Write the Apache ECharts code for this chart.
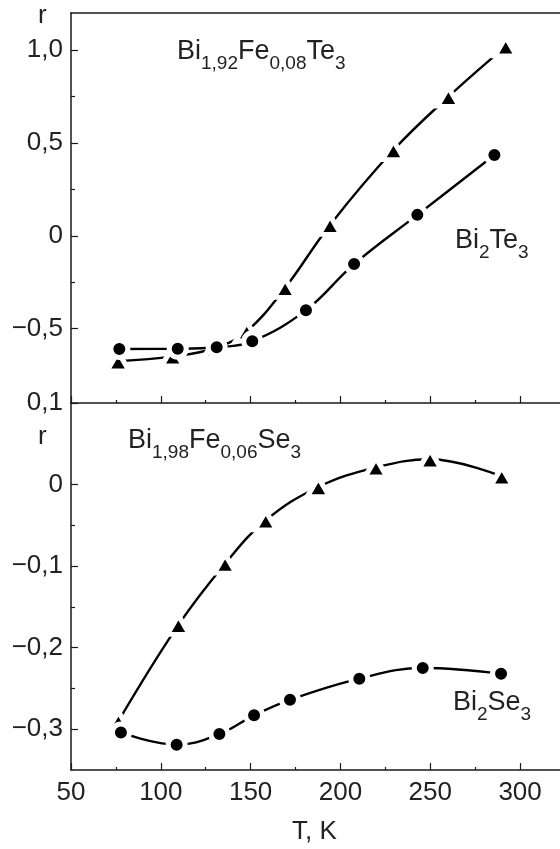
<!DOCTYPE html>
<html>
<head>
<meta charset="utf-8">
<script src="https://cdn.jsdelivr.net/npm/echarts@6/dist/echarts.min.js"></script>
<style>
  html, body { margin: 0; padding: 0; background: #fff; }
  #chart { width: 560px; height: 849px; }
</style>
</head>
<body>
<div id="chart"></div>
<script>
// верхняя панель: Bi2Te3 и Bi1,92Fe0,08Te3
var teFeT = [76.2, 106.6, 130.2, 147.8, 169.2, 194.2, 229.5, 260.1, 292.0];
var teFeR = [-0.675, -0.649, -0.604, -0.514, -0.28, 0.059, 0.462, 0.749, 1.02];
var teT = [76.9, 109.4, 131.1, 150.9, 180.8, 207.6, 242.8, 285.7];
var teR = [-0.609, -0.608, -0.60, -0.568, -0.40, -0.152, 0.113, 0.435];

// нижняя панель: Bi2Se3 и Bi1,98Fe0,06Se3
var seFeT = [76.4, 109.8, 135.8, 158.4, 187.7, 219.8, 249.9, 289.8];
var seFeR = [-0.290, -0.172, -0.097, -0.044, -0.003, 0.021, 0.031, 0.010];
var seT = [77.8, 108.8, 132.6, 151.9, 171.9, 210.5, 245.8, 289.4];
var seR = [-0.304, -0.319, -0.306, -0.283, -0.264, -0.238, -0.225, -0.232];

var topTicks = [-0.5, 0, 0.5, 1.0];
var topMinor = [-0.25, 0.25, 0.75];
var botTicks = [-0.3, -0.2, -0.1, 0, 0.1];
var botMinor = [-0.25, -0.15, -0.05];

function zip(xs, ys) {
  return xs.map(function (x, i) { return [x, ys[i]]; });
}

function fmt(v) {
  if (Math.abs(v) < 1e-9) return '0';
  var s = Math.abs(v).toFixed(1).replace('.', ',');
  return v < 0 ? '\u2212' + s : s;
}

var myChart = echarts.init(document.getElementById('chart'));

var axisColor = '#1a1a1a';
var labelFont = { color: '#222', fontSize: 26, fontFamily: 'Liberation Sans' };

function xAxisCfg(grid, withLabels) {
  return {
    type: 'value', gridIndex: grid, position: 'bottom', min: 50, max: 325, interval: 50,
    axisLine: { show: true, onZero: false, lineStyle: { color: axisColor, width: 1.5 } },
    axisTick: { show: true, inside: true, length: 7, lineStyle: { color: axisColor, width: 1.2 } },
    minorTick: { show: true, splitNumber: 2, length: 3, lineStyle: { color: axisColor, width: 1.2 } },
    splitLine: { show: false },
    axisLabel: {
      show: withLabels, margin: 10,
      color: labelFont.color, fontSize: labelFont.fontSize, fontFamily: labelFont.fontFamily,
      formatter: function (v) { return v % 50 === 0 ? String(v) : ''; }
    }
  };
}

function yAxisCfg(grid, min, max, ticks) {
  return {
    type: 'value', gridIndex: grid, position: 'left', min: min, max: max,
    axisLine: { show: true, onZero: false, lineStyle: { color: axisColor, width: 1.5 } },
    axisTick: { show: true, inside: true, length: 7, customValues: ticks, lineStyle: { color: axisColor, width: 1.2 } },
    splitLine: { show: false },
    axisLabel: {
      customValues: ticks, margin: 8,
      color: labelFont.color, fontSize: labelFont.fontSize, fontFamily: labelFont.fontFamily,
      formatter: fmt
    }
  };
}

function minorAxisCfg(grid, min, max, ticks) {
  return {
    type: 'value', gridIndex: grid, position: 'left', offset: 0, min: min, max: max,
    axisLine: { show: false, onZero: false },
    axisTick: { show: true, inside: true, length: 4, customValues: ticks, lineStyle: { color: axisColor, width: 1.2 } },
    splitLine: { show: false },
    axisLabel: { show: false }
  };
}

// белая обводка маркера даёт разрыв линии у точки, как на оригинале
function lineSeries(data, sym, size, xi, yi) {
  return {
    type: 'line', data: data, xAxisIndex: xi, yAxisIndex: yi,
    smooth: 0.4, symbol: sym, symbolSize: size,
    lineStyle: { color: '#000', width: 2.4 },
    itemStyle: { color: '#000', borderColor: '#fff', borderWidth: 5 },
    emphasis: { disabled: true }, silent: true
  };
}

var main = { fontSize: 27, fontWeight: 'normal', verticalAlign: 'top', fontFamily: 'Liberation Sans', color: '#222' };
var sub = { fontSize: 19, fontWeight: 'normal', verticalAlign: 'top', padding: [16, 0, 0, 0], fontFamily: 'Liberation Sans', color: '#222' };

function label(text, left, top) {
  return {
    text: text, left: left, top: top, padding: 0,
    textStyle: { fontWeight: 'normal', rich: { m: main, s: sub } }
  };
}

function plain(text, left, top) {
  return {
    text: text, left: left, top: top, padding: 0,
    textStyle: { color: '#222', fontSize: 26, fontWeight: 'normal', fontFamily: 'Liberation Sans' }
  };
}

var option = {
  animation: false,
  backgroundColor: '#fff',
  title: [
    label('{m|Bi}{s|1,92}{m|Fe}{s|0,08}{m|Te}{s|3}', 177, 38),
    label('{m|Bi}{s|2}{m|Te}{s|3}', 455, 227),
    label('{m|Bi}{s|1,98}{m|Fe}{s|0,06}{m|Se}{s|3}', 128, 427),
    label('{m|Bi}{s|2}{m|Se}{s|3}', 453, 689),
    plain('r', 38, 3),
    plain('r', 38, 424),
    plain('T, K', 292, 819)
  ],
  grid: [
    { left: 71, top: 13, width: 494, height: 390, outerBoundsMode: 'none' },
    { left: 71, top: 403, width: 494, height: 367, outerBoundsMode: 'none' }
  ],
  xAxis: [
    xAxisCfg(0, false),
    {
      type: 'value', gridIndex: 0, position: 'top', min: 50, max: 325,
      axisLine: { show: true, onZero: false, lineStyle: { color: axisColor, width: 1.5 } },
      axisTick: { show: false }, axisLabel: { show: false }, splitLine: { show: false }
    },
    xAxisCfg(1, true)
  ],
  yAxis: [
    yAxisCfg(0, -0.9, 1.2, topTicks),
    minorAxisCfg(0, -0.9, 1.2, topMinor),
    yAxisCfg(1, -0.35, 0.1, botTicks),
    minorAxisCfg(1, -0.35, 0.1, botMinor)
  ],
  series: [
    lineSeries(zip(teFeT, teFeR), 'triangle', [22, 19], 0, 0),
    lineSeries(zip(teT, teR), 'circle', 17, 0, 0),
    lineSeries(zip(seFeT, seFeR), 'triangle', [22, 19], 2, 2),
    lineSeries(zip(seT, seR), 'circle', 17, 2, 2)
  ]
};

myChart.setOption(option);
</script>
</body>
</html>
